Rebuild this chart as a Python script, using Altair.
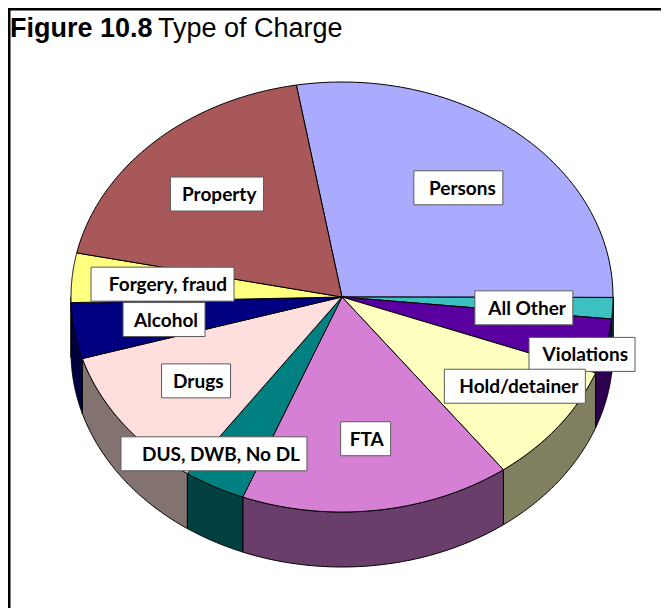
import altair as alt
import pandas as pd

# ---- data (clockwise from the top) ----
categories = ["Persons", "All Other", "Violations", "Hold/detainer", "FTA",
              "DUS, DWB, No DL", "Drugs", "Alcohol", "Forgery, fraud", "Property"]
shares = [27.7, 1.6, 4.1, 9.1, 16.1, 3.7, 10.7, 4.2, 3.7, 19.0]

# ---- styles ----
top_colors = ["#AAAAFF", "#3CC0C0", "#5A00A0", "#FFFFC0", "#D580D5",
              "#008080", "#FFDEDE", "#000080", "#FFFF80", "#A85858"]
side_colors = ["#555580", "#1E7070", "#2D0050", "#808060", "#6A3E6A",
               "#004040", "#827370", "#000040", "#808040", "#542C2C"]

# ---- label layout (radial fraction, angular shift in degrees, box width px) ----
label_radius = [0.665, 0.673, 0.925, 0.761, 0.665, 0.869, 0.665, 0.665, 0.665, 0.665]
label_shift = [0, 1.3, 3.5, -4, 0, 4.8, 0, 0, 0, 0]
box_width = [89, 98, 106, 141, 50, 186, 69, 82, 143, 93]

# ---- geometry of the tilted pie ----
CX, CY, RX, RY, DEPTH = 342, 297, 271, 215, 55
START = -9.7
N = 72
W, H = 653, 600

df = pd.DataFrame({
    "category": categories,
    "share": shares,
    "idx": list(range(len(categories))),
    "top_color": top_colors,
    "side_color": side_colors,
    "lr": label_radius,
    "shift": label_shift,
    "bw": box_width,
})

xs = alt.Scale(domain=[8, 8 + W], nice=False, zero=False)
ys = alt.Scale(domain=[8, 8 + H], reverse=True, nice=False, zero=False)


def X(f):
    return alt.X(f, type="quantitative", scale=xs, axis=None)


def Y(f):
    return alt.Y(f, type="quantitative", scale=ys, axis=None, stack=None)


base = alt.Chart(df).transform_joinaggregate(
    total="sum(share)"
).transform_window(
    cum="sum(share)", sort=[alt.SortField("idx")], frame=[None, 0]
).transform_calculate(
    a0=f"{START} + 360*(datum.cum - datum.share)/datum.total",
    a1=f"{START} + 360*datum.cum/datum.total",
)

# side walls (front half only)
side = base.transform_calculate(
    b0="max(datum.a0, 90)", b1="min(datum.a1, 270)"
).transform_filter(
    "datum.b1 > datum.b0"
).transform_calculate(
    pts=f"sequence(0, {N + 1})"
).transform_flatten(
    ["pts"], as_=["k"]
).transform_calculate(
    ang=f"datum.b0 + (datum.b1 - datum.b0)*datum.k/{N}"
).transform_calculate(
    x=f"{CX} + {RX}*sin(datum.ang*PI/180)",
    y=f"{CY} - {RY}*cos(datum.ang*PI/180)",
).transform_calculate(
    y2=f"datum.y + {DEPTH}"
).mark_area(stroke="black", strokeWidth=1, strokeJoin="round").encode(
    x=X("x"), y=Y("y"), y2="y2:Q",
    color=alt.Color("side_color:N", scale=None),
    detail="category:N",
)

# top faces
top = base.transform_calculate(
    pts=f"sequence(0, {N + 3})"
).transform_flatten(
    ["pts"], as_=["k"]
).transform_calculate(
    ang=f"datum.a0 + (datum.a1 - datum.a0)*(clamp(datum.k, 1, {N + 1}) - 1)/{N}",
    edge=f"(datum.k > 0 && datum.k < {N + 2}) ? 1 : 0",
).transform_calculate(
    x=f"{CX} + datum.edge*{RX}*sin(datum.ang*PI/180)",
    y=f"{CY} - datum.edge*{RY}*cos(datum.ang*PI/180)",
).mark_line(filled=True, stroke="black", strokeWidth=1, strokeJoin="round").encode(
    x=X("x"), y=Y("y"),
    color=alt.Color("top_color:N", scale=None),
    detail="category:N", order="k:Q",
)

lab = base.transform_calculate(
    mid="(datum.a0 + datum.a1)/2 + datum.shift"
).transform_calculate(
    lx=f"{CX} + datum.lr*{RX}*sin(datum.mid*PI/180)",
    ly=f"{CY} - datum.lr*{RY}*cos(datum.mid*PI/180)",
).transform_calculate(
    bx0="datum.lx - datum.bw/2",
    bx1="datum.lx + datum.bw/2",
    by0="datum.ly - 17",
    by1="datum.ly + 17",
    tx="datum.lx + datum.bw/2 - 7",
    ty="datum.ly + 7",
)

boxes = lab.mark_rect(fill="white", stroke="#5a5a5a", strokeWidth=1).encode(
    x=X("bx0"), x2="bx1:Q", y=Y("by0"), y2="by1:Q"
)
texts = lab.mark_text(align="right", baseline="alphabetic", font="Lato",
                      fontWeight="bold", fontSize=19, color="black").encode(
    x=X("tx"), y=Y("ty"), text="category:N"
)

tdf = pd.DataFrame({"a": [0]})
title_bold = alt.Chart(tdf).mark_text(
    align="left", baseline="alphabetic", font="Liberation Sans",
    fontWeight="bold", fontSize=27, color="black"
).encode(x=alt.value(2), y=alt.value(28.5), text=alt.value("Figure 10.8"))
title_reg = alt.Chart(tdf).mark_text(
    align="left", baseline="alphabetic", font="Liberation Sans",
    fontSize=27, color="black"
).encode(x=alt.value(150), y=alt.value(28.5), text=alt.value("Type of Charge"))

frame_left = alt.Chart(tdf).mark_rule(color="black", strokeWidth=3).encode(
    x=alt.value(1), y=alt.value(0), y2=alt.value(H)
)
frame_top = alt.Chart(tdf).mark_rule(color="black", strokeWidth=3).encode(
    x=alt.value(0), x2=alt.value(W), y=alt.value(1)
)

chart = alt.layer(
    side, top, boxes, texts, title_bold, title_reg, frame_left, frame_top
).properties(
    width=W, height=H, padding=0, autosize=alt.AutoSizeParams(type="none"),
    background="white",
).configure_view(stroke=None)

chart.save("out.html", embed_options={"renderer": "svg", "actions": False})
